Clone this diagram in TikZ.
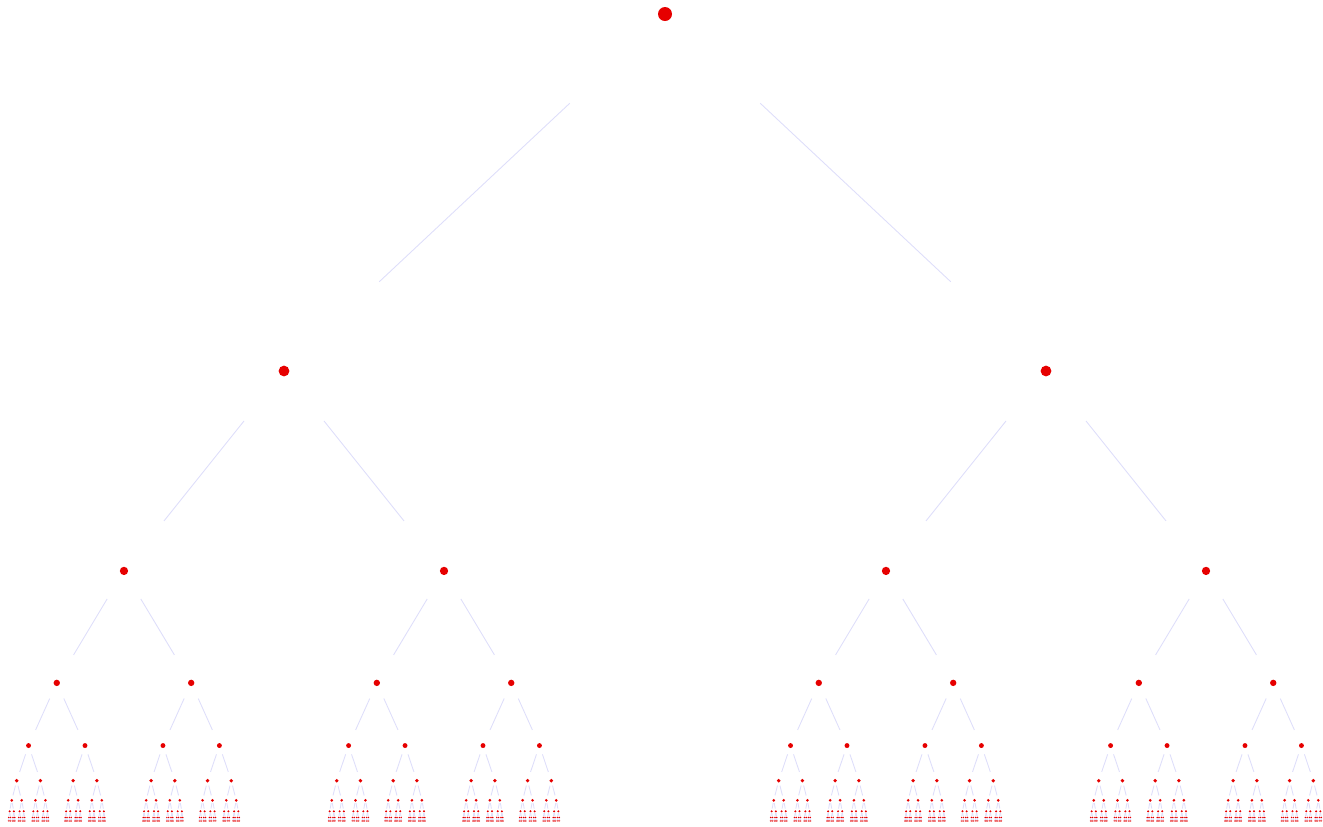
\documentclass[tikz,border=0pt]{standalone}
\usepackage{tikz}
\usetikzlibrary{calc}

\definecolor{dotred}{RGB}{230,0,0}
\definecolor{branchblue}{RGB}{222,222,250}

\begin{document}
\begin{tikzpicture}[
x=0.02cm, y=-0.02cm,
dot/.style={circle, fill=dotred, inner sep=0pt},
branch/.style={draw=branchblue, line width=0.5pt}
]
\useasboundingbox (0,0) rectangle (1323,826);
\node[dot, minimum size=0.28cm] (v-0-0) at (665,14) {};
% each level: halve the spread, shrink the drop and the dots
\foreach \lev in {1,...,9} {
  \pgfmathtruncatemacro\levm{\lev-1}
  \pgfmathtruncatemacro\last{2^\lev-1}
  \pgfmathsetmacro\dx{381*0.42^(\lev-1)}
  \pgfmathsetmacro\dy{357*0.56^(\lev-1)}
  \pgfmathsetmacro\size{0.28*0.77^\lev}
  \foreach \i in {0,...,\last} {
    \pgfmathtruncatemacro\p{floor(\i/2)}
    \pgfmathsetmacro\side{2*mod(\i,2)-1}
    \node[dot, minimum size=\size cm] (v-\lev-\i) at ($(v-\levm-\p)+(\side*\dx,\dy)$) {};
    \draw[branch] ($(v-\levm-\p)!.25!(v-\lev-\i)$) -- ($(v-\levm-\p)!.75!(v-\lev-\i)$);
  }
}
\end{tikzpicture}
\end{document}
